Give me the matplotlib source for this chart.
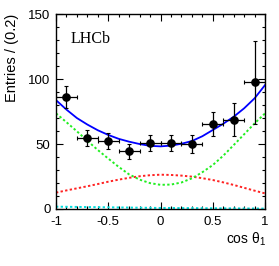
import matplotlib
matplotlib.use("Agg")
import matplotlib.pyplot as plt
from matplotlib.ticker import MultipleLocator
import numpy as np

# data points (bins of 0.2 in cos theta_1)
x_data = [-0.9, -0.7, -0.5, -0.3, -0.1, 0.1, 0.3, 0.5, 0.7, 0.9]
y_data = [86.4, 54.9, 52.3, 44.4, 50.8, 50.8, 50.0, 65.6, 68.7, 97.4]
y_err = [8.5, 6.2, 6.4, 5.9, 6.5, 6.4, 6.6, 9.2, 12.6, 32.0]
x_err = [0.1] * 10

# fit components, every 0.1
x_curve = [-1.0, -0.9, -0.8, -0.7, -0.6, -0.5, -0.4, -0.3, -0.2, -0.1, 0.0,
           0.1, 0.2, 0.3, 0.4, 0.5, 0.6, 0.7, 0.8, 0.9, 1.0]
total = [83.8, 76.5, 70.0, 65.0, 60.6, 57.0, 54.0, 51.8, 50.0, 48.6, 48.2,
         48.8, 50.2, 52.3, 56.0, 60.8, 65.6, 71.0, 77.5, 85.2, 95.4]
green = [73.6, 66.8, 59.8, 52.5, 45.4, 38.8, 32.4, 26.6, 22.6, 19.9, 18.6,
         18.8, 20.4, 23.6, 28.3, 33.8, 41.0, 49.2, 57.5, 65.9, 73.6]
red = [12.6, 14.3, 15.9, 17.5, 19.2, 21.0, 22.6, 24.0, 25.2, 26.0, 26.4,
       26.2, 25.7, 24.9, 23.7, 22.3, 20.5, 18.5, 16.3, 14.1, 12.0]
cyan = [1.8, 1.7, 1.6, 1.5, 1.4, 1.3, 1.2, 1.1, 1.0, 0.9, 0.8,
        0.8, 0.7, 0.7, 0.6, 0.6, 0.5, 0.5, 0.4, 0.4, 0.3]

plt.rcParams['font.family'] = ['Liberation Sans', 'DejaVu Sans']
plt.rcParams['mathtext.fontset'] = 'custom'
plt.rcParams['mathtext.rm'] = 'Liberation Sans'
plt.rcParams['mathtext.it'] = 'Liberation Sans'

fig = plt.figure(figsize=(2.79, 2.66), dpi=100)
ax = fig.add_axes([0.2007, 0.2143, 0.7493, 0.7327])

ax.plot(x_curve, cyan, color='#00dddd', ls=(0, (1.2, 1.2)), lw=1.4)
ax.plot(x_curve, red, color='#ff2222', ls=(0, (1.2, 1.2)), lw=1.4)
ax.plot(x_curve, green, color='#22ee22', ls=(0, (1.2, 1.2)), lw=1.4)
ax.plot(x_curve, total, color='#0000ff', lw=1.3)

ax.errorbar(x_data, y_data, yerr=y_err, xerr=x_err, fmt='o', color='black',
            ms=5.2, elinewidth=0.9, capsize=1.2, capthick=0.8, zorder=5)

ax.set_xlim(-1, 1)
ax.set_ylim(0, 150)
ax.xaxis.set_major_locator(MultipleLocator(0.5))
ax.xaxis.set_minor_locator(MultipleLocator(0.1))
ax.yaxis.set_major_locator(MultipleLocator(50))
ax.yaxis.set_minor_locator(MultipleLocator(10))
ax.xaxis.set_major_formatter(plt.FuncFormatter(lambda v, p: '%g' % v))
ax.tick_params(which='both', direction='in', top=True, right=True,
               labelsize=9.5, width=0.8)
ax.tick_params(axis='x', pad=5)
ax.tick_params(axis='y', pad=4)
ax.tick_params(which='major', length=5)
ax.tick_params(which='minor', length=2.5)
for s in ax.spines.values():
    s.set_linewidth(1.0)

ax.set_ylabel('Entries / (0.2)', fontsize=10.5)
ax.yaxis.set_label_coords(-0.175, 0.775)
ax.set_xlabel(r'cos $\theta_1$', fontsize=10)
ax.xaxis.set_label_coords(0.91, -0.11)

ax.text(0.07, 0.85, 'LHCb', transform=ax.transAxes, fontsize=11.5,
        family='Liberation Serif')

fig.savefig('out.png', dpi=100)
